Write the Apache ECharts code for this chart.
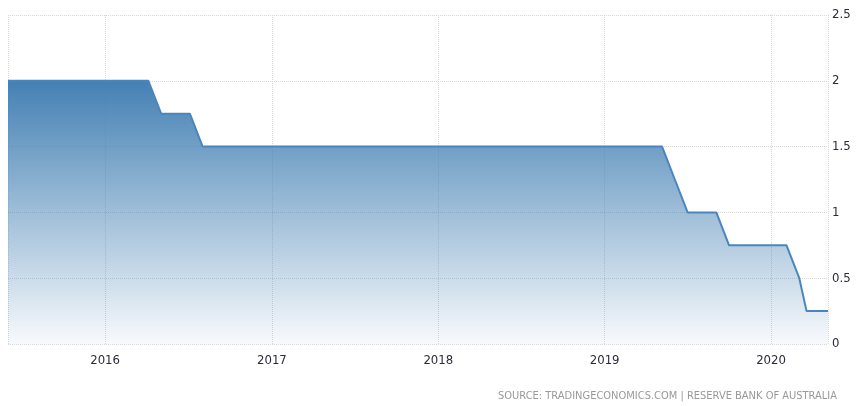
<!DOCTYPE html>
<html>
<head>
<meta charset="utf-8">
<script src="https://cdn.jsdelivr.net/npm/echarts@6/dist/echarts.min.js"></script>
<style>html,body{margin:0;padding:0;background:#fff}#c{width:863px;height:406px}</style>
</head>
<body>
<div id="c"></div>
<script>
// RBA cash rate target at each board meeting
const dates = [
  '2015-06-02','2015-07-07','2015-08-04','2015-09-01','2015-10-06','2015-11-03','2015-12-01',
  '2016-02-02','2016-03-01','2016-04-05','2016-05-03','2016-06-07','2016-07-05','2016-08-02','2016-09-06','2016-10-04','2016-11-01','2016-12-06',
  '2017-02-07','2017-03-07','2017-04-04','2017-05-02','2017-06-06','2017-07-04','2017-08-01','2017-09-05','2017-10-03','2017-11-07','2017-12-05',
  '2018-02-06','2018-03-06','2018-04-03','2018-05-01','2018-06-05','2018-07-03','2018-08-07','2018-09-04','2018-10-02','2018-11-06','2018-12-04',
  '2019-02-05','2019-03-05','2019-04-02','2019-05-07','2019-06-04','2019-07-02','2019-08-06','2019-09-03','2019-10-01','2019-11-05','2019-12-03',
  '2020-02-04','2020-03-03','2020-03-19','2020-04-07','2020-05-05'
];
const rates = [
  2, 2, 2, 2, 2, 2, 2,
  2, 2, 2, 1.75, 1.75, 1.75, 1.5, 1.5, 1.5, 1.5, 1.5,
  1.5, 1.5, 1.5, 1.5, 1.5, 1.5, 1.5, 1.5, 1.5, 1.5, 1.5,
  1.5, 1.5, 1.5, 1.5, 1.5, 1.5, 1.5, 1.5, 1.5, 1.5, 1.5,
  1.5, 1.5, 1.5, 1.5, 1.25, 1, 1, 1, 0.75, 0.75, 0.75,
  0.75, 0.5, 0.25, 0.25, 0.25
];
const yMin = 0, yMax = 2.5, yStep = 0.5;
const sourceText = 'SOURCE: TRADINGECONOMICS.COM | RESERVE BANK OF AUSTRALIA';

const font = "'Liberation Sans Narrow','DejaVu Sans Condensed','Liberation Sans',Arial,sans-serif";
const YEAR = 365 * 24 * 3600 * 1000;
const chart = echarts.init(document.getElementById('c'), null, {renderer: 'canvas'});
chart.setOption({
  animation: false,
  backgroundColor: '#fff',
  title: {
    text: sourceText,
    right: 26, bottom: 4, padding: 0,
    textStyle: {fontFamily: font, fontSize: 11, fontWeight: 'normal', color: '#999'}
  },
  grid: {left: 8, right: 35, top: 15, bottom: 62, containLabel: false},
  xAxis: {
    type: 'time',
    min: 'dataMin', max: 'dataMax',
    minInterval: YEAR, maxInterval: YEAR,
    axisLine: {show: false},
    axisTick: {show: false},
    axisLabel: {
      formatter: '{yyyy}', fontFamily: font, fontSize: 13, color: '#2b2b3a', margin: 10,
      showMinLabel: false, showMaxLabel: false,
      rich: {primary: {fontWeight: 'normal'}}
    },
    splitLine: {show: true, lineStyle: {type: 'dotted', color: '#d8d8d8', width: 1}}
  },
  yAxis: {
    type: 'value', position: 'right',
    min: yMin, max: yMax, interval: yStep,
    axisLine: {show: false},
    axisTick: {show: false},
    axisLabel: {fontFamily: font, fontSize: 13, color: '#2b2b3a', margin: 4,
      formatter: v => String(v)},
    splitLine: {show: true, lineStyle: {type: 'dotted', color: '#d8d8d8', width: 1}}
  },
  series: [{
    type: 'line',
    data: dates.map((d, i) => [d, rates[i]]),
    showSymbol: false,
    symbol: 'none',
    lineStyle: {color: '#4a86bd', width: 2},
    areaStyle: {
      opacity: 1,
      color: new echarts.graphic.LinearGradient(0, 0, 0, 1, [
        {offset: 0, color: 'rgba(68,128,180,1)'},
        {offset: 1, color: 'rgba(70,130,180,0.04)'}
      ])
    }
  }]
});
</script>
</body>
</html>
